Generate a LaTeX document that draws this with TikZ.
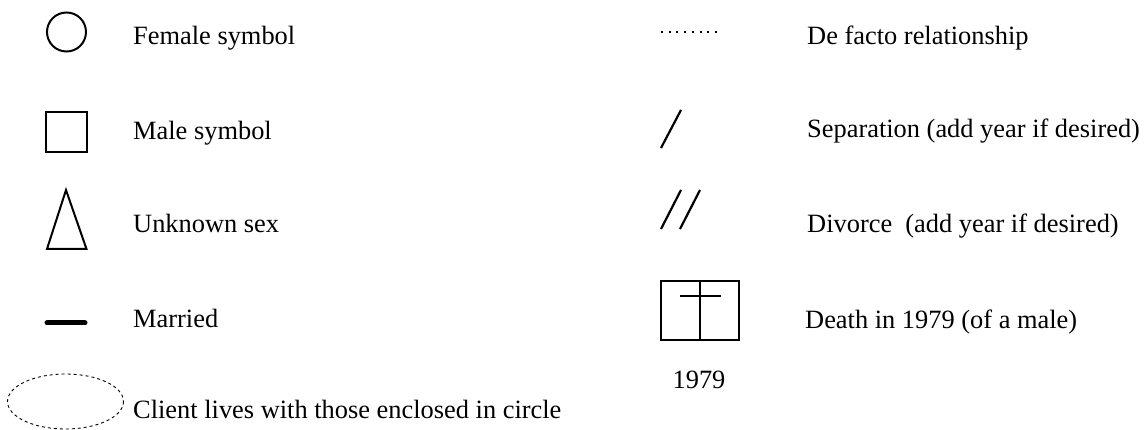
\documentclass[tikz,border=0pt]{standalone}
\usepackage{fontspec}
\setmainfont{Liberation Serif}
\begin{document}
\begin{tikzpicture}[x=1pt,y=-1pt,
  lbl/.style={anchor=base west,inner sep=0pt,font=\fontsize{26.4}{30}\selectfont},
  sym/.style={line width=2pt,line join=miter},
  slash/.style={line width=2.2pt}]
\useasboundingbox (0,0) rectangle (1144,430);
% left column
\draw[sym] (66.5,32) circle[radius=19.5];
\node[lbl] (female) at (133,45) {Female symbol};
\draw[sym] (46,112) rectangle (87,152);
\node[lbl] (male) at (133,140) {Male symbol};
\draw[sym] (66,190) -- (86.5,249) -- (47,249) -- cycle;
\node[lbl] (unknown) at (133,233) {Unknown sex};
\draw[line width=5pt,line cap=round] (47,323) -- (85,323);
\node[lbl] (married) at (133,328) {Married};
\draw[line width=0.9pt,dash pattern=on 3pt off 3pt] (65.5,401.5) ellipse[x radius=58,y radius=27.5];
\node[lbl] (client) at (133,418) {Client lives with those enclosed in circle};
% right column
\draw[line width=1.8pt,dash pattern=on 2pt off 5.7pt] (661,32) -- (719,32);
\node[lbl] (defacto) at (807,45) {De facto relationship};
\draw[slash] (661,148) -- (681,110);
\node[lbl] (sep) at (807,138) {Separation (add year if desired)};
\draw[slash] (661,229) -- (681,190);
\draw[slash] (680,229) -- (700,190);
\node[lbl] (div) at (807,233) {Divorce\ \ (add year if desired)};
\draw[sym] (661,281) rectangle (739,340);
\draw[sym] (700,281) -- (700,340);
\draw[sym] (680,296) -- (721,296);
\node[lbl,anchor=base] (year) at (699,389) {1979};
\node[lbl] (death) at (805,329) {Death in 1979 (of a male)};
\end{tikzpicture}
\end{document}
